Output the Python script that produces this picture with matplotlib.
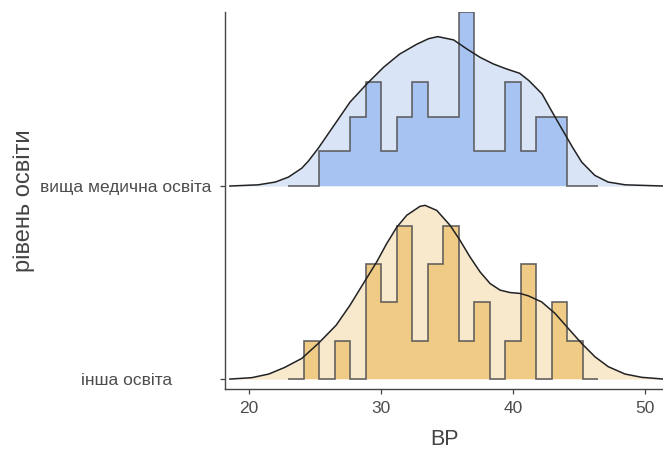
import numpy as np
import matplotlib
matplotlib.use('Agg')
import matplotlib.pyplot as plt

plt.rcParams['font.family'] = ['Liberation Sans', 'DejaVu Sans']

# -- groups (bottom ridge first) -- #
groups = ['інша освіта', 'вища медична освіта']

# histogram counts (20 bins incl. empty padding bins at both ends)
bin_lo, bin_hi = 22.98, 46.46
counts_other = [0, 1, 0, 1, 0, 3, 2, 4, 1, 3, 4, 1, 2, 0, 1, 3, 0, 2, 1, 0]
counts_med = [0, 0, 1, 1, 2, 3, 1, 2, 3, 2, 2, 5, 1, 1, 3, 1, 2, 2, 0, 0]

# density curves (relative, max of both groups = 1)
dens_x_other = [18.55, 20.2, 21.5, 22.7, 24.0, 25.25, 26.6, 27.65, 28.66, 29.67, 30.43, 31.2,
                31.95, 32.95, 33.33, 34.22, 35.23, 35.98, 36.74, 37.5, 38.26, 39.02, 39.77,
                40.53, 41.16, 42.17, 43.18, 44.19, 45.2, 46.21, 47.22, 48.48, 49.75, 51.4]
dens_y_other = [0.0, 0.008, 0.029, 0.067, 0.119, 0.205, 0.310, 0.425, 0.550, 0.674, 0.780, 0.875,
                0.943, 0.994, 1.0, 0.971, 0.885, 0.799, 0.703, 0.617, 0.550, 0.512, 0.498,
                0.493, 0.479, 0.444, 0.378, 0.291, 0.205, 0.128, 0.071, 0.029, 0.010, 0.0]
dens_x_med = [18.55, 20.7, 22.0, 23.0, 24.0, 24.5, 25.25, 26.4, 27.65, 28.9, 30.2, 31.4, 32.7,
              33.6, 34.3, 35.5, 36.5, 37.5, 38.5, 39.5, 40.5, 41.2, 42.2, 42.9, 43.7, 44.5,
              45.2, 46.2, 47.2, 48.5, 51.4]
dens_y_med = [0.0, 0.007, 0.023, 0.052, 0.103, 0.144, 0.218, 0.345, 0.483, 0.586, 0.684, 0.759,
              0.816, 0.848, 0.860, 0.841, 0.789, 0.741, 0.703, 0.674, 0.649, 0.607, 0.530,
              0.435, 0.329, 0.224, 0.138, 0.061, 0.023, 0.007, 0.0]

fill_hist = ['#efcb86', '#a6c3f2']
fill_dens = ['#f8e8cc', '#d9e4f7']
SCALE = 0.9

fig = plt.figure(figsize=(6.63, 4.5), dpi=100)
ax = fig.add_axes([225 / 663, 1 - 389.3 / 450, 438 / 663, 377 / 450])

edges = np.linspace(bin_lo, bin_hi, len(counts_med) + 1)
hist_dens = [np.array(c) / sum(c) for c in (counts_other, counts_med)]
hmax = max(h.max() for h in hist_dens)

curves = [(dens_x_other, dens_y_other), (dens_x_med, dens_y_med)]
for i in (1, 0):
    dx, dy = curves[i]
    top = i + np.array(dy) * SCALE
    ax.fill_between(dx, i, top, color=fill_dens[i], lw=0, zorder=1)
    h = i + hist_dens[i] / hmax * SCALE
    ax.stairs(h, edges, baseline=i, fill=True, color=fill_hist[i], lw=0, zorder=2)
    ax.stairs(h, edges, baseline=i, fill=False, color='#555555', lw=1.2, alpha=0.9, zorder=3)
    ax.plot(dx, top, color='#222222', lw=1.1, zorder=4)

ax.set_xlim(18.18, 51.36)
ax.set_ylim(-0.053, 1.9)
ax.set_xticks([20, 30, 40, 50])
ax.set_yticks([0, 1])
ax.set_yticklabels(groups)
for lbl in ax.get_yticklabels():
    lbl.set_ha('center')

for s in ('top', 'right'):
    ax.spines[s].set_visible(False)
for s in ('left', 'bottom'):
    ax.spines[s].set_color('#444444')
    ax.spines[s].set_linewidth(1.0)

ax.tick_params(axis='both', length=3.5, width=0.9, color='#444444', labelcolor='#4d4d4d', labelsize=12.5)
ax.tick_params(axis='y', pad=67.7)
ax.tick_params(axis='x', pad=5)

ax.set_xlabel('BP', fontsize=15.5, color='#444444')
ax.set_ylabel('рівень освіти', fontsize=17, color='#444444')
ax.xaxis.set_label_coords(0.5, -0.104)
ax.yaxis.set_label_coords(-0.434, 0.5)

fig.savefig('out.png', dpi=100)
